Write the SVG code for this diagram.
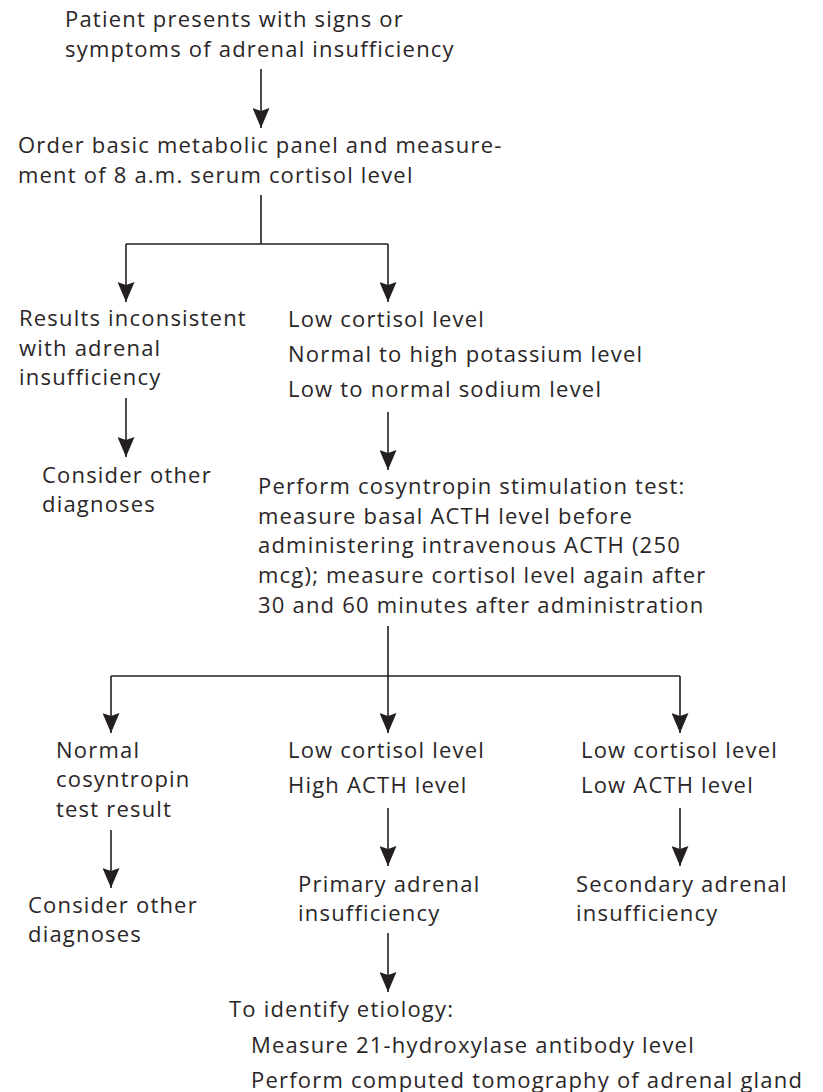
<svg xmlns="http://www.w3.org/2000/svg" width="823" height="1092" viewBox="0 0 823 1092">
<style>
text{font-family:"Open Sans","Noto Sans","Liberation Sans",sans-serif;font-size:22px;letter-spacing:1.2px;fill:#2a2627}
.c path{fill:none;stroke:#231f20;stroke-width:1.6}
</style>
<defs>
<marker id="ah" markerUnits="userSpaceOnUse" viewBox="0 0 20 17" markerWidth="20" markerHeight="17" refX="20" refY="8.5" orient="auto">
<path d="M0,0 L20,8.5 L0,17 L3,8.5 z" fill="#231f20"/>
</marker>
</defs>
<rect width="823" height="1092" fill="#fff"/>
<g class="c" id="connectors">
<path d="M261,69 V128" marker-end="url(#ah)"/>
<path d="M261,195 V244 M126,244 H388"/>
<path d="M126,244 V302" marker-end="url(#ah)"/>
<path d="M388,244 V302" marker-end="url(#ah)"/>
<path d="M126,398 V457" marker-end="url(#ah)"/>
<path d="M388,412 V470" marker-end="url(#ah)"/>
<path d="M388,626 V676 M111,676 H680"/>
<path d="M111,676 V733" marker-end="url(#ah)"/>
<path d="M388,676 V733" marker-end="url(#ah)"/>
<path d="M680,676 V733" marker-end="url(#ah)"/>
<path d="M111,830 V888" marker-end="url(#ah)"/>
<path d="M388,808 V866" marker-end="url(#ah)"/>
<path d="M680,808 V866" marker-end="url(#ah)"/>
<path d="M388,933 V992" marker-end="url(#ah)"/>
</g>
<g id="n1"><text x="65" y="27">Patient presents with signs or</text><text x="65" y="57">symptoms of adrenal insufficiency</text></g>
<g id="n2"><text x="18" y="153">Order basic metabolic panel and measure-</text><text x="18" y="183">ment of 8 a.m. serum cortisol level</text></g>
<g id="n3"><text x="19" y="326">Results inconsistent</text><text x="19" y="356">with adrenal</text><text x="19" y="385">insufficiency</text></g>
<g id="n4"><text x="288" y="327">Low cortisol level</text><text x="288" y="362">Normal to high potassium level</text><text x="288" y="397">Low to normal sodium level</text></g>
<g id="n5"><text x="42" y="483">Consider other</text><text x="42" y="512">diagnoses</text></g>
<g id="n6"><text x="258" y="494">Perform cosyntropin stimulation test:</text><text x="258" y="524">measure basal ACTH level before</text><text x="258" y="553">administering intravenous ACTH (250</text><text x="258" y="583">mcg); measure cortisol level again after</text><text x="258" y="613">30 and 60 minutes after administration</text></g>
<g id="n7"><text x="56" y="758">Normal</text><text x="56" y="787">cosyntropin</text><text x="56" y="817">test result</text></g>
<g id="n8"><text x="28" y="913">Consider other</text><text x="28" y="942">diagnoses</text></g>
<g id="n9"><text x="288" y="758">Low cortisol level</text><text x="288" y="793">High ACTH level</text></g>
<g id="n10"><text x="298" y="892">Primary adrenal</text><text x="298" y="921">insufficiency</text></g>
<g id="n11"><text x="581" y="758">Low cortisol level</text><text x="581" y="793">Low ACTH level</text></g>
<g id="n12"><text x="576" y="892">Secondary adrenal</text><text x="576" y="921">insufficiency</text></g>
<g id="n13"><text x="229" y="1017">To identify etiology:</text><text x="251" y="1053">Measure 21-hydroxylase antibody level</text><text x="251" y="1088">Perform computed tomography of adrenal gland</text></g>
</svg>
